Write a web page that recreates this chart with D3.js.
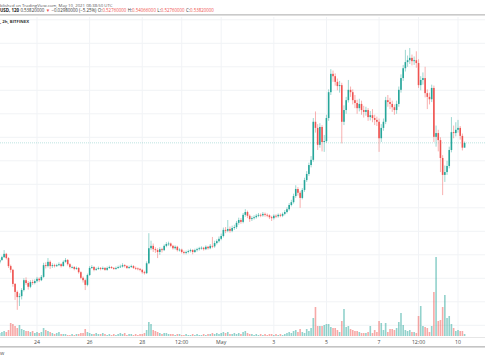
<!DOCTYPE html>
<html><head><meta charset="utf-8">
<script src="https://cdn.jsdelivr.net/npm/d3@7"></script>
<style>body{margin:0;background:#fff}svg{display:block}</style>
</head><body>
<svg id="c" width="485" height="360"></svg>
<script>
// ---- data (DOGE/USD 2h, Bitfinex) ----
const startTime = Date.UTC(2021, 3, 22, 14); // first candle open time
const stepMs = 2 * 3600 * 1000;
const opens = [.284,.289,.295,.302,.293,.276,.268,.238,.221,.210,.212,.225,.246,.240,.232,.242,.240,.244,.249,.246,
.253,.278,.276,.285,.276,.278,.276,.278,.280,.276,.285,.289,.280,.274,.274,.270,.272,.263,.251,.246,
.236,.257,.272,.274,.268,.270,.272,.270,.272,.268,.272,.274,.272,.270,.272,.274,.275,.278,.276,.272,
.274,.276,.272,.271,.270,.268,.263,.261,.282,.314,.319,.312,.310,.306,.312,.310,.319,.323,.324,.319,
.314,.317,.310,.311,.306,.304,.306,.308,.310,.306,.310,.312,.314,.315,.312,.317,.314,.319,.318,.325,
.329,.334,.340,.353,.351,.355,.351,.357,.359,.368,.374,.370,.385,.391,.383,.376,.378,.380,.383,.385,
.384,.387,.385,.384,.380,.378,.383,.382,.385,.383,.387,.391,.397,.406,.412,.425,.440,.432,.421,.438,
.459,.472,.491,.502,.583,.570,.534,.572,.540,.542,.591,.646,.685,.680,.668,.659,.661,.583,.608,.629,
.651,.646,.629,.623,.612,.621,.608,.604,.608,.593,.597,.591,.587,.583,.548,.570,.583,.629,.625,.621,
.614,.608,.621,.651,.676,.697,.710,.714,.719,.712,.714,.708,.661,.672,.676,.644,.636,.631,.655,.551,
.559,.544,.506,.470,.476,.489,.523,.561,.559,.566,.570,.553,.528];
const closes = [.289,.295,.302,.293,.276,.268,.238,.221,.210,.212,.225,.246,.240,.232,.242,.240,.244,.249,.246,.253,
.278,.276,.285,.276,.278,.276,.278,.280,.276,.285,.289,.280,.274,.274,.270,.272,.263,.251,.246,.236,
.257,.272,.274,.268,.270,.272,.270,.272,.268,.272,.274,.272,.270,.272,.274,.275,.278,.276,.272,.274,
.276,.272,.271,.270,.268,.263,.261,.282,.314,.319,.312,.310,.306,.312,.310,.319,.323,.324,.319,.314,
.317,.310,.311,.306,.304,.306,.308,.310,.306,.310,.312,.314,.315,.312,.317,.314,.319,.318,.325,.329,
.334,.340,.353,.351,.355,.351,.357,.359,.368,.374,.370,.385,.391,.383,.376,.378,.380,.383,.385,.384,
.387,.385,.384,.380,.378,.383,.382,.385,.383,.387,.391,.397,.406,.412,.425,.440,.432,.421,.438,.459,
.472,.491,.502,.583,.570,.534,.572,.540,.542,.591,.646,.685,.680,.668,.659,.661,.583,.608,.629,.651,
.646,.629,.623,.612,.621,.608,.604,.608,.593,.597,.591,.587,.583,.548,.570,.583,.629,.625,.621,.614,
.608,.621,.651,.676,.697,.710,.714,.719,.712,.714,.708,.661,.672,.676,.644,.636,.631,.655,.551,.559,
.544,.506,.470,.476,.489,.523,.561,.559,.566,.570,.553,.528,.538];
const highs = [.293,.298,.310,.304,.295,.279,.270,.240,.224,.218,.229,.250,.252,.244,.246,.247,.248,.253,.252,.257,
.283,.284,.293,.288,.282,.281,.281,.284,.282,.288,.293,.291,.282,.277,.276,.275,.274,.265,.254,.249,
.260,.276,.278,.276,.273,.275,.274,.275,.274,.275,.277,.276,.274,.275,.277,.279,.282,.280,.278,.277,
.279,.278,.275,.273,.272,.270,.266,.286,.346,.330,.324,.316,.314,.316,.315,.322,.327,.328,.326,.321,
.320,.319,.314,.313,.309,.309,.311,.313,.312,.313,.315,.317,.318,.317,.320,.319,.323,.338,.330,.333,
.339,.345,.358,.359,.374,.360,.362,.364,.372,.379,.378,.389,.397,.394,.386,.382,.384,.387,.389,.388,
.391,.390,.388,.386,.383,.386,.386,.388,.388,.390,.395,.401,.410,.417,.430,.448,.444,.436,.442,.464,
.478,.496,.510,.591,.605,.578,.580,.576,.555,.598,.652,.695,.692,.686,.675,.670,.666,.618,.636,.672,
.658,.652,.640,.630,.632,.628,.617,.615,.612,.606,.610,.598,.594,.590,.578,.590,.636,.640,.634,.628,
.620,.628,.658,.684,.704,.736,.724,.740,.726,.722,.733,.716,.680,.688,.700,.652,.645,.662,.660,.575,
.566,.550,.512,.490,.500,.530,.593,.575,.582,.587,.574,.558,.541];
const lows = [.281,.287,.293,.290,.272,.262,.232,.204,.183,.191,.205,.222,.236,.226,.229,.236,.237,.241,.242,.244,
.251,.271,.273,.270,.272,.273,.274,.276,.273,.275,.283,.277,.271,.271,.267,.268,.260,.248,.241,.225,
.233,.255,.270,.265,.266,.268,.267,.268,.266,.266,.270,.270,.268,.268,.270,.272,.273,.273,.270,.270,
.272,.270,.268,.267,.265,.260,.258,.259,.280,.310,.306,.304,.293,.300,.305,.308,.316,.319,.316,.311,
.311,.307,.307,.303,.301,.301,.303,.305,.301,.304,.307,.309,.311,.309,.310,.311,.312,.314,.315,.322,
.326,.331,.337,.346,.348,.347,.348,.353,.355,.364,.366,.367,.381,.378,.370,.372,.375,.377,.380,.380,
.381,.381,.380,.376,.372,.375,.378,.379,.380,.380,.384,.388,.394,.403,.409,.421,.426,.400,.418,.434,
.455,.468,.486,.498,.560,.523,.528,.520,.519,.538,.585,.640,.668,.660,.650,.645,.537,.576,.600,.624,
.636,.620,.612,.600,.605,.598,.592,.596,.585,.586,.582,.576,.574,.519,.540,.564,.578,.615,.610,.604,
.598,.600,.615,.645,.670,.690,.700,.706,.703,.704,.698,.655,.650,.662,.635,.610,.620,.625,.540,.530,
.520,.476,.427,.455,.470,.484,.518,.548,.552,.560,.545,.522,.528];
const volumes = [30,40,50,40,60, 130,120,100,80,110, 70,60,50,50,40, 50,30,40,30,40,
80,60,50,40,30, 20,30,40,20,20, 20,10,10,20,10, 20,20,30,30,70,
40,30,20,20,30, 20,20,30,20,10, 20,10,20,10,20, 30,20,30,10,20,
20,10,20,10,20, 20,30,60,140,120, 60,50,40,30,20, 30,30,20,20,20,
10,20,20,10,10, 20,10,10,20,10, 20,10,10,20,10, 20,20,30,20,30,
20,30,40,30,40, 20,20,30,20,30, 20,40,50,30,20, 20,10,20,10,20,
10,20,10,20,20, 10,20,10,20,10, 20,30,40,30,50, 60,40,70,40,30,
70,50,80,180,290, 100,100,100,110,120, 120,90,80,80,60, 40,150,270,90,100,
70,60,50,50,40, 30,30,30,40,100, 30,60,40,150,130, 60,130,40,70,70,
60,80,140,230,110, 60,50,60,40,40, 30,200,300,100,90, 80,40,100,440,790,
150,160,290,410,180, 200,120,80,50,60, 50,50,20];
const priceTicks = [0.15,0.20,0.25,0.30,0.35,0.40,0.45,0.50,0.55,0.60,0.65,0.70,0.75,0.80];
const timeTicks = [
  {t: Date.UTC(2021,3,24), label: "24"},
  {t: Date.UTC(2021,3,26), label: "26"},
  {t: Date.UTC(2021,3,28), label: "28"},
  {t: Date.UTC(2021,3,29,12), label: "12:00"},
  {t: Date.UTC(2021,4,1), label: "May"},
  {t: Date.UTC(2021,4,3), label: "3"},
  {t: Date.UTC(2021,4,5), label: "5"},
  {t: Date.UTC(2021,4,7), label: "7"},
  {t: Date.UTC(2021,4,8,12), label: "12:00"},
  {t: Date.UTC(2021,4,10), label: "10"}
];
const lastClose = 0.5382;
const headerLine1 = "blished on TradingView.com, May 10, 2021 08:38:50 UTC";
const headerLine2 = [
  ["USD, 120", "#222", "bold"], ["0.53820000", "#333", "normal"], ["▼", "#ef5350", "normal"],
  ["−0.02980000 (−5.25%)", "#333", "normal"],
  ["O:", "#333", "normal"], ["0.52760000", "#ef5350", "normal"],
  ["H:", "#333", "normal"], ["0.54066000", "#ef5350", "normal"],
  ["L:", "#333", "normal"], ["0.52760000", "#ef5350", "normal"],
  ["C:", "#333", "normal"], ["0.53820000", "#ef5350", "normal"]
];
const headerLine3 = ", 2h, BITFINEX";

// ---- drawing ----
const UP = "#26a69a", DOWN = "#ef5350";
const svg = d3.select("#c");
const x = d3.scaleUtc().domain([new Date(Date.UTC(2021,3,24)), new Date(Date.UTC(2021,4,10))]).range([37, 458]);
const y = d3.scaleLinear().domain([0.20, 0.75]).range([301.8, 43.3]);
const yV = d3.scaleLinear().domain([0, 790]).range([336, 257]);
const plotTop = 17, plotBottom = 337;

const candles = closes.map((c, i) => ({t: new Date(startTime + i * stepMs), o: opens[i], h: highs[i], l: lows[i], c, v: volumes[i]}));

// grid
const g = svg.append("g");
g.selectAll("line.h").data(priceTicks).join("line")
  .attr("x1", 0).attr("x2", 485).attr("y1", d => y(d)).attr("y2", d => y(d))
  .attr("stroke", "#f1f3f6").attr("stroke-width", 1);
g.selectAll("line.v").data(timeTicks).join("line")
  .attr("x1", d => x(d.t)).attr("x2", d => x(d.t)).attr("y1", plotTop).attr("y2", plotBottom)
  .attr("stroke", "#f1f3f6").attr("stroke-width", 1);

// volume
svg.append("g").selectAll("rect").data(candles).join("rect")
  .attr("x", d => x(d.t) - 0.8).attr("width", 1.6)
  .attr("y", d => yV(d.v)).attr("height", d => yV(0) - yV(d.v))
  .attr("fill", d => d.c >= d.o ? UP : DOWN).attr("fill-opacity", 0.5);

// price line
svg.append("line").attr("x1", 0).attr("x2", 485).attr("y1", y(lastClose)).attr("y2", y(lastClose))
  .attr("stroke", UP).attr("stroke-opacity", 0.3).attr("stroke-width", 1).attr("stroke-dasharray", "1,1");

// candles
const cg = svg.append("g");
cg.selectAll("line").data(candles).join("line")
  .attr("x1", d => x(d.t)).attr("x2", d => x(d.t))
  .attr("y1", d => y(d.h)).attr("y2", d => y(d.l))
  .attr("stroke", d => d.c >= d.o ? UP : DOWN).attr("stroke-opacity", 0.45).attr("stroke-width", 1);
cg.selectAll("rect").data(candles).join("rect")
  .attr("x", d => x(d.t) - 0.8).attr("width", 1.6)
  .attr("y", d => y(Math.max(d.o, d.c)))
  .attr("height", d => Math.max(0.8, Math.abs(y(d.o) - y(d.c))))
  .attr("fill", d => d.c >= d.o ? UP : DOWN);

// time axis
const ff = "Open Sans, sans-serif";
svg.append("line").attr("x1", 0).attr("x2", 485).attr("y1", plotBottom + 0.5).attr("y2", plotBottom + 0.5)
  .attr("stroke", "#e6e6e6");
svg.append("g").selectAll("text").data(timeTicks).join("text")
  .attr("x", d => x(d.t)).attr("y", 344).attr("text-anchor", "middle")
  .attr("font-family", ff).attr("font-size", 5.2).attr("fill", "#4a4a4a")
  .text(d => d.label);
svg.append("rect").attr("x", 0).attr("y", 346).attr("width", 485).attr("height", 1.6).attr("fill", "#c4c4c4");
svg.append("text").attr("x", 0).attr("y", 355).attr("font-family", ff)
  .attr("font-size", 5.5).attr("fill", "#555").text("w");

// header: size each line so its natural width matches the reference
function fitText(sel, target) {
  const w = sel.node().getComputedTextLength();
  const fs = +sel.attr("font-size");
  sel.attr("font-size", fs * target / w);
}
const t1 = svg.append("text").attr("x", 0).attr("y", 6.8).attr("font-family", ff).attr("font-size", 5)
  .attr("fill", "#555").text(headerLine1);
fitText(t1, 113);

// line 2: separate pieces laid out one after another
const gap = 1.6;
const pieces = headerLine2.map(p => svg.append("text").attr("y", 12).attr("font-family", ff)
  .attr("font-size", 5).attr("fill", p[1]).attr("font-weight", p[2]).text(p[0]));
const noGapAfter = new Set([4, 6, 8, 10]);
let natural = 0;
pieces.forEach((p, i) => { natural += p.node().getComputedTextLength() + (i < pieces.length - 1 && !noGapAfter.has(i) ? gap : 0); });
const k = 214 / natural;
let cx = 0;
pieces.forEach((p, i) => {
  p.attr("font-size", 5 * k).attr("x", cx);
  cx += p.node().getComputedTextLength() + (noGapAfter.has(i) ? 0 : gap * k);
});

svg.append("rect").attr("x", 0).attr("y", 14.2).attr("width", 485).attr("height", 1.3).attr("fill", "#bdbdbd");
const t3 = svg.append("text").attr("x", 0).attr("y", 23).attr("font-family", ff).attr("font-size", 5)
  .attr("font-weight", "bold").attr("fill", "#333").text(headerLine3);
fitText(t3, 29);
</script>
</body></html>
